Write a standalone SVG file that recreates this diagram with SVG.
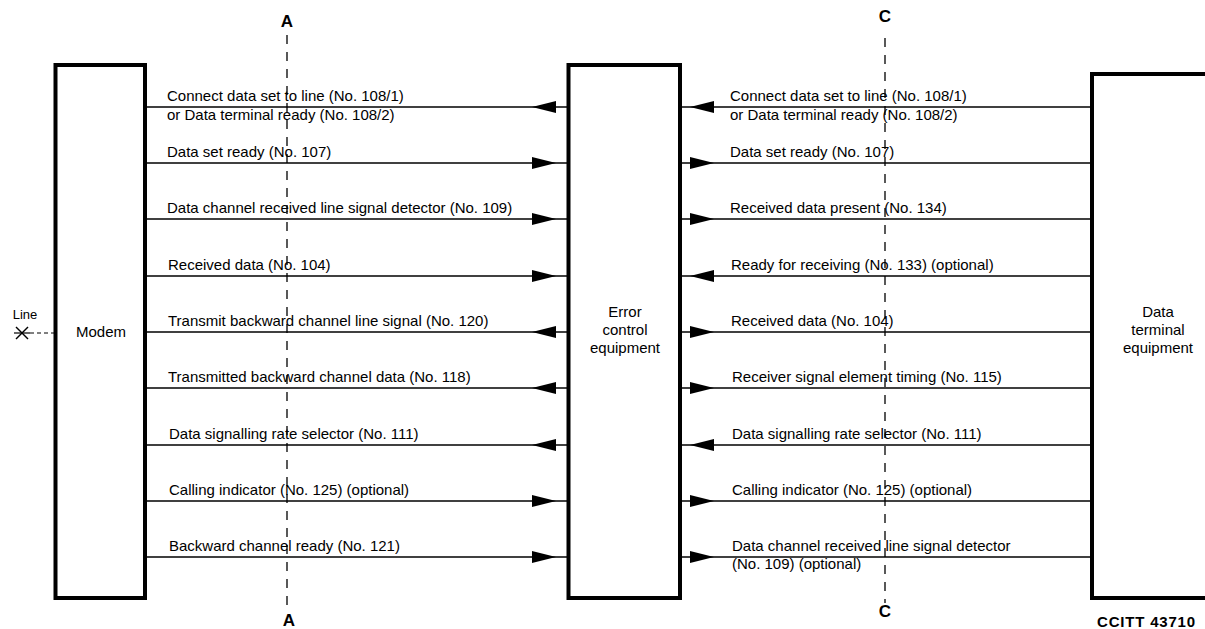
<svg xmlns="http://www.w3.org/2000/svg" xmlns:xlink="http://www.w3.org/1999/xlink" width="1205" height="629" viewBox="0 0 1205 629">
<style>
  .box { fill: #fff; stroke: #000; stroke-width: 4; }
  .sig { stroke: #000; stroke-width: 1.5; fill: none; }
  .ref { stroke: #000; stroke-width: 1.3; stroke-dasharray: 9 8; fill: none; }
  .lbl { font-family: "Liberation Sans", Arial, sans-serif; font-size: 15px; fill: #000; }
  .node { font-family: "Liberation Sans", Arial, sans-serif; font-size: 15px; fill: #000; text-anchor: middle; }
  .bold { font-family: "Liberation Sans", Arial, sans-serif; font-weight: bold; font-size: 17px; fill: #000; text-anchor: middle; }
  .ah { fill: #000; }
</style>
<defs>
  <path id="aR" d="M0,0 L-24,-6 L-24,6 Z"/>
  <path id="aL" d="M0,0 L24,-6 L24,6 Z"/>
</defs>

<g id="reference-lines">
  <line class="ref" x1="287" y1="35" x2="287" y2="612"/>
  <text class="bold" x="287" y="27">A</text>
  <text class="bold" x="289" y="626">A</text>
  <line class="ref" x1="885" y1="38" x2="885" y2="603"/>
  <text class="bold" x="885" y="22">C</text>
  <text class="bold" x="885" y="617">C</text>
</g>

<g id="line-input">
  <text x="25" y="319" font-family="'Liberation Sans', Arial, sans-serif" font-size="13" text-anchor="middle">Line</text>
  <line x1="16" y1="327" x2="28" y2="339" stroke="#000" stroke-width="1.4"/>
  <line x1="28" y1="327" x2="16" y2="339" stroke="#000" stroke-width="1.4"/>
  <line x1="14" y1="333" x2="30" y2="333" stroke="#000" stroke-width="1.2"/>
  <line x1="30" y1="333" x2="54" y2="333" stroke="#000" stroke-width="1" stroke-dasharray="4 3"/>
</g>

<g id="modem">
  <rect class="box" x="55.5" y="65" width="89.5" height="533"/>
  <text class="node" x="101" y="337">Modem</text>
</g>

<g id="error-control-equipment">
  <rect class="box" x="568.5" y="65" width="111.5" height="533"/>
  <text class="node" x="625" y="317">Error</text>
  <text class="node" x="625" y="335">control</text>
  <text class="node" x="625" y="353">equipment</text>
</g>

<g id="data-terminal-equipment">
  <rect class="box" x="1092" y="74" width="200" height="524"/>
  <text class="node" x="1158" y="317">Data</text>
  <text class="node" x="1158" y="335">terminal</text>
  <text class="node" x="1158" y="353">equipment</text>
</g>

<g id="connectors">
  <!-- Modem to ECE -->
  <line class="sig" x1="147" y1="107" x2="567" y2="107"/><use href="#aL" x="532" y="107"/>
  <line class="sig" x1="147" y1="163" x2="567" y2="163"/><use href="#aR" x="556" y="163"/>
  <line class="sig" x1="147" y1="219" x2="567" y2="219"/><use href="#aR" x="556" y="219"/>
  <line class="sig" x1="147" y1="276" x2="567" y2="276"/><use href="#aR" x="556" y="276"/>
  <line class="sig" x1="147" y1="332" x2="567" y2="332"/><use href="#aL" x="532" y="332"/>
  <line class="sig" x1="147" y1="388" x2="567" y2="388"/><use href="#aL" x="532" y="388"/>
  <line class="sig" x1="147" y1="445" x2="567" y2="445"/><use href="#aL" x="532" y="445"/>
  <line class="sig" x1="147" y1="501" x2="567" y2="501"/><use href="#aR" x="556" y="501"/>
  <line class="sig" x1="147" y1="557" x2="567" y2="557"/><use href="#aR" x="556" y="557"/>
  <!-- ECE to DTE -->
  <line class="sig" x1="682" y1="107" x2="1090" y2="107"/><use href="#aL" x="690" y="107"/>
  <line class="sig" x1="682" y1="163" x2="1090" y2="163"/><use href="#aR" x="714" y="163"/>
  <line class="sig" x1="682" y1="219" x2="1090" y2="219"/><use href="#aR" x="714" y="219"/>
  <line class="sig" x1="682" y1="276" x2="1090" y2="276"/><use href="#aL" x="690" y="276"/>
  <line class="sig" x1="682" y1="332" x2="1090" y2="332"/><use href="#aR" x="714" y="332"/>
  <line class="sig" x1="682" y1="388" x2="1090" y2="388"/><use href="#aR" x="714" y="388"/>
  <line class="sig" x1="682" y1="445" x2="1090" y2="445"/><use href="#aL" x="690" y="445"/>
  <line class="sig" x1="682" y1="501" x2="1090" y2="501"/><use href="#aR" x="714" y="501"/>
  <line class="sig" x1="682" y1="557" x2="1090" y2="557"/><use href="#aR" x="714" y="557"/>
</g>

<g id="connector-labels">
  <text class="lbl" x="167" y="101">Connect data set to line (No. 108/1)</text>
  <text class="lbl" x="167" y="120">or Data terminal ready (No. 108/2)</text>
  <text class="lbl" x="167" y="157">Data set ready (No. 107)</text>
  <text class="lbl" x="167" y="213">Data channel received line signal detector (No. 109)</text>
  <text class="lbl" x="168" y="270">Received data (No. 104)</text>
  <text class="lbl" x="168" y="326">Transmit backward channel line signal (No. 120)</text>
  <text class="lbl" x="168" y="382">Transmitted backward channel data (No. 118)</text>
  <text class="lbl" x="169" y="439">Data signalling rate selector (No. 111)</text>
  <text class="lbl" x="169" y="495">Calling indicator (No. 125) (optional)</text>
  <text class="lbl" x="169" y="551">Backward channel ready (No. 121)</text>

  <text class="lbl" x="730" y="101">Connect data set to line (No. 108/1)</text>
  <text class="lbl" x="730" y="120">or Data terminal ready (No. 108/2)</text>
  <text class="lbl" x="730" y="157">Data set ready (No. 107)</text>
  <text class="lbl" x="730" y="213">Received data present (No. 134)</text>
  <text class="lbl" x="731" y="270">Ready for receiving (No. 133) (optional)</text>
  <text class="lbl" x="731" y="326">Received data (No. 104)</text>
  <text class="lbl" x="732" y="382">Receiver signal element timing (No. 115)</text>
  <text class="lbl" x="732" y="439">Data signalling rate selector (No. 111)</text>
  <text class="lbl" x="732" y="495">Calling indicator (No. 125) (optional)</text>
  <text class="lbl" x="732" y="551">Data channel received line signal detector</text>
  <text class="lbl" x="732" y="569">(No. 109) (optional)</text>
</g>

<text x="1097" y="627" font-family="'Liberation Sans', Arial, sans-serif" font-weight="bold" font-size="15" letter-spacing="0.8">CCITT 43710</text>
</svg>
